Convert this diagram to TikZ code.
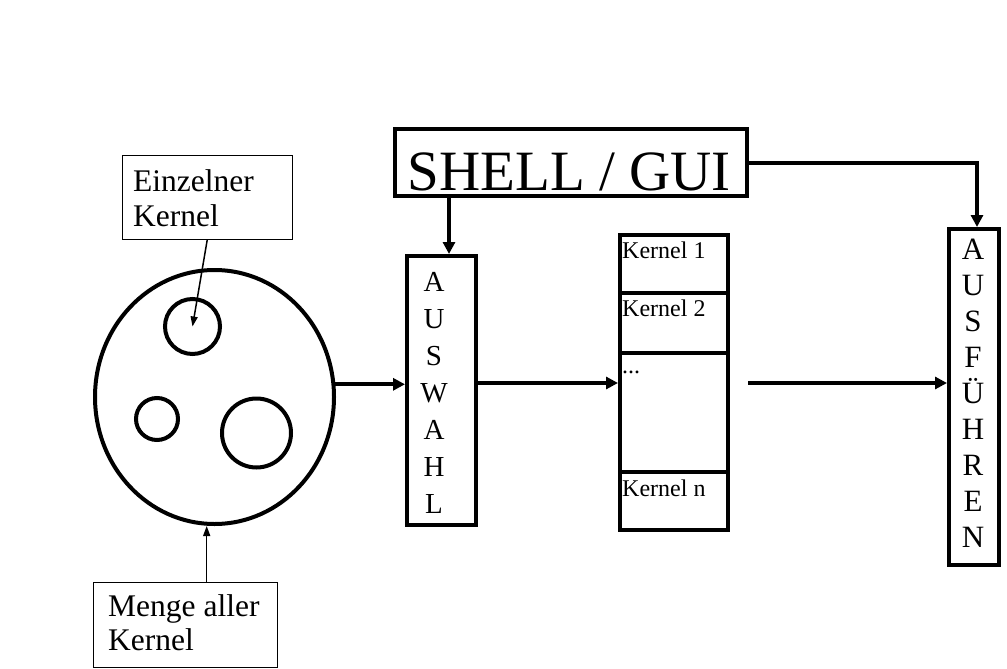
\documentclass[tikz,border=0pt]{standalone}
\usepackage{fontspec}
\setmainfont{Liberation Serif}
\usetikzlibrary{arrows.meta,shapes.geometric}
\begin{document}
\begin{tikzpicture}[x=1pt,y=-1pt,
  bigarrow/.style={line width=4pt,-{Triangle[length=12pt,width=12pt]}},
  thinarrow/.style={line width=1.5pt,-{Triangle[length=10pt,width=7pt]}},
  box/.style={draw,line width=4pt,rectangle,inner sep=0pt},
  callout/.style={draw,line width=1pt,rectangle,inner sep=0pt},
  ring/.style={draw,line width=4pt,circle,inner sep=0pt},
  txt/.style={inner sep=0pt,anchor=base west},
  midfont/.style={font=\fontsize{31.5}{35}\selectfont},
  smallfont/.style={font=\fontsize{24}{28}\selectfont},
  vert/.style={inner sep=0pt,anchor=north,align=center},
]
\useasboundingbox (0,0) rectangle (1007,669);

% set of all kernels
\node[draw,line width=4pt,ellipse,inner sep=0pt,minimum width=239,minimum height=254] (menge) at (214.5,397) {};
\node[ring,minimum size=55] (ka) at (192.5,326.5) {};
\node[ring,minimum size=42] (kb) at (157,419) {};
\node[ring,minimum size=69] (kc) at (256.5,433) {};

% callouts
\node[callout,minimum width=170,minimum height=84] (einzel) at (207.2,197.5) {};
\node[txt,midfont] (e1) at (133,191.7) {Einzelner};
\node[txt,midfont] (e2) at (133,226.7) {Kernel};
\draw[thinarrow] (einzel.south) -- (ka.center);

\node[callout,minimum width=184,minimum height=85.3] (mengebox) at (185.8,624.9) {};
\node[txt,midfont] (m1) at (108,616.7) {Menge aller};
\node[txt,midfont] (m2) at (108,650) {Kernel};
\coordinate (mp) at (206.7,582);
\draw[thinarrow] (mengebox.north -| mp) -- (mp |- menge.south);

% shell
\node[box,minimum width=352,minimum height=67] (shell) at (571,162.5) {};
\node[txt,font=\fontsize{57}{60}\selectfont] (shelltxt) at (407.5,190) {SHELL / GUI};

% auswahl
\node[box,minimum width=69,minimum height=269] (auswahl) at (441.5,390.5) {};
\node[vert,font=\fontsize{29}{37}\selectfont] (auswahltxt) at (434,272) {A\\U\\S\\W\\A\\H\\L};

% kernel stack
\node[box,minimum width=108,minimum height=58] (c1) at (674,264) {};
\node[box,minimum width=108,minimum height=60] (c2) at (674,323) {};
\node[box,minimum width=108,minimum height=119] (c3) at (674,412.5) {};
\node[box,minimum width=108,minimum height=58] (c4) at (674,501) {};
\node[txt,smallfont] (k1) at (622,258.3) {Kernel 1};
\node[txt,smallfont] (k2) at (622,316.7) {Kernel 2};
\node[txt,smallfont] (k3) at (622,373) {...};
\node[txt,smallfont] (k4) at (622,496.7) {Kernel n};

% ausfuehren
\node[box,minimum width=50,minimum height=336] (ausf) at (974,397) {};
\node[vert,font=\fontsize{31}{36}\selectfont] (ausftxt) at (973,238.5) {A\\U\\S\\F\\Ü\\H\\R\\E\\N};

% connectors
\coordinate (mid) at (0,383);
\draw[bigarrow] (menge.6.6) -- (auswahl.west |- menge.6.6);
\draw[bigarrow] (auswahl.east |- mid) -- (c3.west |- mid);
\draw[bigarrow] ([xshift=18pt]c3.east |- mid) -- (ausf.west |- mid);
\draw[bigarrow] ([xshift=7.5pt]auswahl.north |- shell.south) -- ([xshift=7.5pt]auswahl.north);
\draw[bigarrow] (shell.east) -| ([xshift=3pt]ausf.north);
\end{tikzpicture}
\end{document}
